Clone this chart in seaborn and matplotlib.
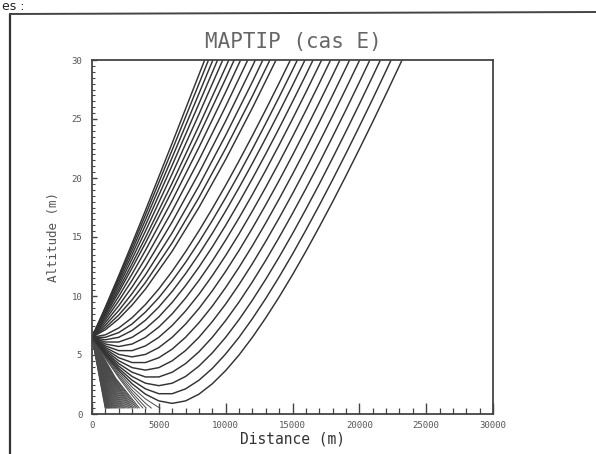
import matplotlib
matplotlib.use("Agg")
import matplotlib.pyplot as plt
import pandas as pd
import seaborn as sns
from matplotlib.lines import Line2D
from matplotlib.ticker import MultipleLocator

# ---------------- data ----------------
# rays launched upward (distance in m, altitude in m)
up_dist = [0, 1000, 2000, 3000, 4000, 6000, 8000, 10000, 12000, 14000]
up_alt = [
    [6.5, 7.14, 8.07, 9.23, 10.59, 13.80, 17.50, 21.57, 25.94, 30.53],
    [6.5, 7.32, 8.39, 9.68, 11.15, 14.51, 18.34, 22.51, 26.95, 31.60],
    [6.5, 7.53, 8.77, 10.21, 11.80, 15.36, 19.34, 23.62, 28.15, 32.88],
    [6.5, 7.75, 9.18, 10.77, 12.50, 16.28, 20.42, 24.83, 29.47, 34.28],
    [6.5, 7.97, 9.59, 11.34, 13.20, 17.21, 21.52, 26.07, 30.82],
    [6.5, 8.17, 9.97, 11.87, 13.87, 18.10, 22.59, 27.28, 32.14],
    [6.5, 8.36, 10.32, 12.37, 14.49, 18.93, 23.59, 28.42, 33.38],
    [6.5, 8.50, 10.58, 12.74, 14.96, 19.58, 24.42, 29.40, 34.50],
    [6.5, 8.64, 10.86, 13.15, 15.50, 20.36, 25.40, 30.56],
    [6.5, 8.77, 11.12, 13.53, 16.00, 21.08, 26.30, 31.60],
    [6.5, 8.88, 11.35, 13.88, 16.46, 21.74, 27.15, 32.61],
    [6.5, 8.98, 11.55, 14.19, 16.88, 22.38, 27.98, 33.62],
    [6.5, 9.06, 11.72, 14.46, 17.26, 22.96, 28.76, 34.53],
]

# rays launched horizontally / slightly downward that dip and turn up
dip_dist = [0, 1000, 2000, 3000, 4000, 5000, 6000, 7000, 8000, 9000, 10000,
            11000, 12000, 13000, 14000, 15000, 16000, 17000, 18000, 19000,
            20000, 21000, 22000, 23000, 24000]
dip_alt = [
    [6.5, 6.71, 7.29, 8.16, 9.28, 10.60, 12.10, 13.75, 15.52, 17.41, 19.38, 21.45, 23.59, 25.79, 28.05, 30.36],
    [6.5, 6.50, 6.90, 7.63, 8.64, 9.86, 11.28, 12.85, 14.57, 16.40, 18.33, 20.35, 22.45, 24.63, 26.86, 29.15, 31.48],
    [6.5, 6.29, 6.50, 7.08, 7.95, 9.07, 10.39, 11.89, 13.54, 15.31, 17.20, 19.18, 21.24, 23.38, 25.58, 27.84, 30.15],
    [6.5, 6.10, 6.10, 6.50, 7.23, 8.23, 9.46, 10.88, 12.45, 14.16, 15.99, 17.93, 19.95, 22.05, 24.22, 26.46, 28.74, 31.08],
    [6.5, 5.93, 5.72, 5.93, 6.50, 7.37, 8.49, 9.82, 11.32, 12.96, 14.74, 16.62, 18.60, 20.66, 22.80, 25.00, 27.26, 29.58, 31.94],
    [6.5, 5.77, 5.37, 5.37, 5.77, 6.50, 7.50, 8.73, 10.14, 11.72, 13.43, 15.26, 17.20, 19.22, 21.32, 23.49, 25.72, 28.01, 30.35],
    [6.5, 5.63, 5.05, 4.84, 5.05, 5.63, 6.50, 7.62, 8.94, 10.44, 12.09, 13.86, 15.75, 17.73, 19.79, 21.93, 24.13, 26.39, 28.70, 31.06],
    [6.5, 5.50, 4.77, 4.36, 4.36, 4.77, 5.50, 6.50, 7.73, 9.14, 10.72, 12.43, 14.26, 16.19, 18.22, 20.32, 22.49, 24.72, 27.01, 29.35, 31.73],
    [6.5, 5.38, 4.51, 3.93, 3.72, 3.93, 4.51, 5.38, 6.50, 7.83, 9.32, 10.97, 12.74, 14.63, 16.61, 18.67, 20.81, 23.01, 25.27, 27.58, 29.94, 32.35],
    [6.5, 5.27, 4.27, 3.54, 3.14, 3.14, 3.54, 4.27, 5.27, 6.50, 7.92, 9.49, 11.20, 13.03, 14.97, 16.99, 19.09, 21.26, 23.50, 25.78, 28.12, 30.50],
    [6.5, 5.18, 4.06, 3.18, 2.61, 2.40, 2.61, 3.18, 4.06, 5.18, 6.50, 8.00, 9.65, 11.42, 13.30, 15.28, 17.35, 19.48, 21.69, 23.95, 26.26, 28.62, 31.02],
    [6.5, 5.09, 3.86, 2.86, 2.13, 1.72, 1.72, 2.13, 2.86, 3.86, 5.09, 6.50, 8.08, 9.79, 11.62, 13.55, 15.58, 17.68, 19.85, 22.08, 24.37, 26.70, 29.09, 31.51],
    [6.5, 5.00, 3.68, 2.56, 1.68, 1.11, 0.90, 1.11, 1.68, 2.56, 3.68, 5.00, 6.50, 8.15, 9.92, 11.80, 13.78, 15.85, 17.98, 20.19, 22.45, 24.76, 27.12, 29.52, 31.96],
]

# steep downward rays that end on the ground
ground_dist = [
    [0, 1000, 2000, 3000, 4000, 5000, 5100],
    [0, 1000, 2000, 3000, 4000, 4440],
    [0, 1000, 2000, 3000, 4000, 4070],
    [0, 1000, 2000, 3000, 3810],
    [0, 1775, 3550], [0, 1710, 3420], [0, 1650, 3300], [0, 1585, 3170],
    [0, 1525, 3050], [0, 1475, 2950], [0, 1425, 2850], [0, 1375, 2750],
    [0, 1325, 2650], [0, 1275, 2550], [0, 1225, 2450], [0, 1180, 2360],
    [0, 1140, 2280], [0, 1100, 2200], [0, 1060, 2120], [0, 1020, 2045],
    [0, 985, 1970], [0, 950, 1900], [0, 915, 1830], [0, 880, 1765],
    [0, 850, 1700], [0, 820, 1640], [0, 790, 1580], [0, 760, 1525],
    [0, 735, 1470], [0, 710, 1420], [0, 685, 1370], [0, 660, 1325],
    [0, 640, 1280], [0, 620, 1240], [0, 600, 1200], [0, 580, 1160],
    [0, 560, 1120], [0, 540, 1085], [0, 525, 1050], [0, 505, 1015],
    [0, 490, 980],
]
ground_alt = [
    [6.5, 4.92, 3.51, 2.28, 1.28, 0.55, 0.5],
    [6.5, 4.85, 3.36, 2.03, 0.91, 0.5],
    [6.5, 4.79, 3.21, 1.80, 0.57, 0.5],
    [6.5, 4.73, 3.08, 1.58, 0.5],
    [6.5, 3.03, 0.5], [6.5, 3.06, 0.5], [6.5, 3.09, 0.5], [6.5, 3.12, 0.5],
    [6.5, 3.15, 0.5], [6.5, 3.17, 0.5], [6.5, 3.20, 0.5], [6.5, 3.22, 0.5],
    [6.5, 3.24, 0.5], [6.5, 3.26, 0.5], [6.5, 3.28, 0.5], [6.5, 3.30, 0.5],
    [6.5, 3.31, 0.5], [6.5, 3.32, 0.5], [6.5, 3.33, 0.5], [6.5, 3.35, 0.5],
    [6.5, 3.36, 0.5], [6.5, 3.37, 0.5], [6.5, 3.37, 0.5], [6.5, 3.38, 0.5],
    [6.5, 3.39, 0.5], [6.5, 3.40, 0.5], [6.5, 3.41, 0.5], [6.5, 3.42, 0.5],
    [6.5, 3.42, 0.5], [6.5, 3.43, 0.5], [6.5, 3.43, 0.5], [6.5, 3.44, 0.5],
    [6.5, 3.44, 0.5], [6.5, 3.45, 0.5], [6.5, 3.45, 0.5], [6.5, 3.45, 0.5],
    [6.5, 3.45, 0.5], [6.5, 3.46, 0.5], [6.5, 3.46, 0.5], [6.5, 3.46, 0.5],
    [6.5, 3.46, 0.5],
]

x_ticks = [0, 5000, 10000, 15000, 20000, 25000, 30000]
y_ticks = [0, 5, 10, 15, 20, 25, 30]
title_text = "MAPTIP (cas E)"
xlabel_text = "Distance (m)"
ylabel_text = "Altitude (m)"
page_text = "es :"

# ---------------- build long tables ----------------
rows = []
rid = 0
for alts in up_alt:
    for d, a in zip(up_dist, alts):
        rows.append((rid, d, a))
    rid += 1
for alts in dip_alt:
    for d, a in zip(dip_dist, alts):
        rows.append((rid, d, a))
    rid += 1
df_main = pd.DataFrame(rows, columns=["ray", "dist", "alt"])

rows = []
for ds, alts in zip(ground_dist, ground_alt):
    for d, a in zip(ds, alts):
        rows.append((rid, d, a))
    rid += 1
df_ground = pd.DataFrame(rows, columns=["ray", "dist", "alt"])

# ---------------- plot ----------------
sns.set_theme(style="white")
plt.rcParams["font.family"] = ["DejaVu Sans Mono", "DejaVu Sans"]

fig = plt.figure(figsize=(5.96, 4.54), dpi=100)
ax = fig.add_axes([92 / 596, 1 - 414 / 454, (493 - 92) / 596, (414 - 60) / 454])

sns.lineplot(data=df_ground, x="dist", y="alt", units="ray", estimator=None,
             sort=False, color="#4a4a4a", linewidth=0.7, ax=ax, legend=False)
sns.lineplot(data=df_main, x="dist", y="alt", units="ray", estimator=None,
             sort=False, color="#333333", linewidth=1.05, ax=ax, legend=False)

ax.set_xlim(0, 30000)
ax.set_ylim(0, 30)
ax.set_xticks(x_ticks)
ax.set_yticks(y_ticks)
ax.set_xticklabels([str(t) for t in x_ticks])
ax.set_yticklabels([str(t) for t in y_ticks])
ax.xaxis.set_minor_locator(MultipleLocator(1000))
ax.yaxis.set_minor_locator(MultipleLocator(0.5))
ax.tick_params(axis="x", which="major", direction="in", length=8, width=1.0,
               color="#444444", pad=5, labelsize=6.5, labelcolor="#555555",
               bottom=True, top=False)
ax.tick_params(axis="x", which="minor", direction="in", length=4, width=0.9,
               color="#444444", bottom=True, top=False)
ax.tick_params(axis="y", which="major", direction="in", length=3.5, width=1.0,
               color="#444444", pad=7, labelsize=6.5, labelcolor="#555555",
               left=True, right=False)
ax.tick_params(axis="y", which="minor", direction="in", length=1.8, width=0.8,
               color="#444444", left=True, right=False)
for sp in ax.spines.values():
    sp.set_color("#444444")
    sp.set_linewidth(1.3)

ax.set_xlabel(xlabel_text, fontsize=10.5, color="#333333", labelpad=1)
ax.set_ylabel(ylabel_text, fontsize=9, color="#555555", labelpad=8)
fig.text(293 / 596, 1 - 42 / 454, title_text, ha="center", va="center",
         fontsize=15, color="#666666")

# page frame of the scanned document
fig.add_artist(Line2D([10 / 596, 10 / 596], [0, 1 - 14 / 454],
                      transform=fig.transFigure, color="#333333", lw=1.6))
fig.add_artist(Line2D([10 / 596, 1.0], [1 - 14 / 454, 1 - 12 / 454],
                      transform=fig.transFigure, color="#444444", lw=1.4))
fig.text(2 / 596, 1 - 10 / 454, page_text, ha="left", va="baseline",
         fontsize=9, color="#222222", family="DejaVu Sans")

fig.savefig("out.png", dpi=100, facecolor="white")
